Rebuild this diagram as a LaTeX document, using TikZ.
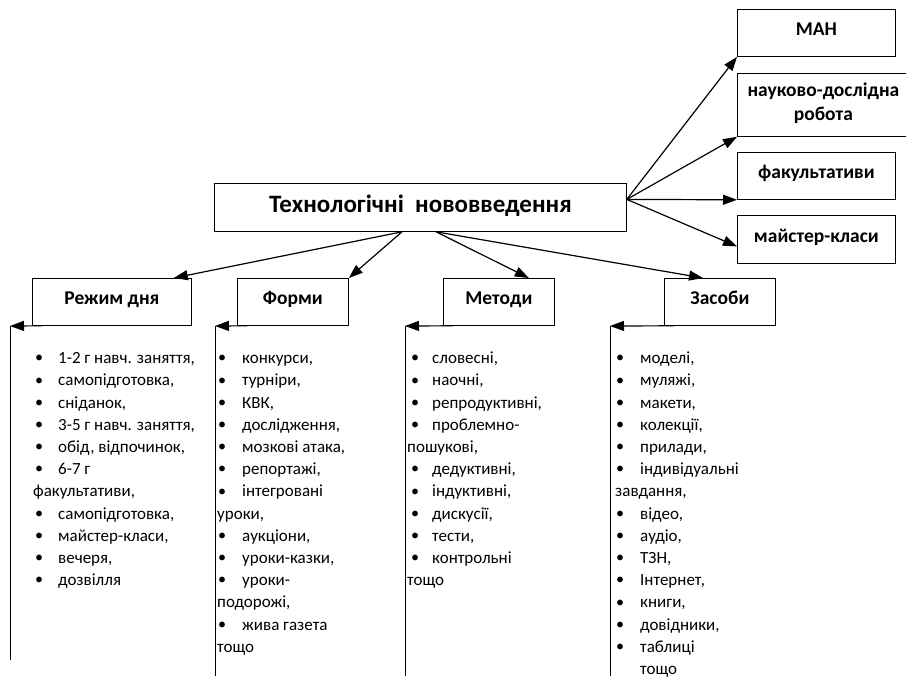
\documentclass[tikz,border=0pt]{standalone}
\usepackage{fontspec}
\setmainfont{Carlito}
\usetikzlibrary{arrows.meta}

% bullet item: small bullet, then the text at a fixed indent
\newcommand{\bl}[2][2pt]{\makebox[25pt][l]{\hspace{#1}\raisebox{0.8pt}{\scalebox{0.95}{•}}}#2}
\newcommand{\ind}[1]{\makebox[25pt]{}#1}

\begin{document}
\begin{tikzpicture}[x=1pt,y=-1pt,
  boxbase/.style={draw,line width=0.8pt,anchor=north west,inner sep=0pt,
    font=\fontsize{19.5}{22}\selectfont\bfseries,align=center},
  box/.style={boxbase,text height=13pt,text depth=7pt},
  arr/.style={line width=1.2pt,-{Triangle[length=14pt,width=10pt]}},
  rule/.style={line width=0.9pt},
  list/.style={anchor=north west,inner sep=0pt,align=left,
    font=\fontsize{17}{22.2}\selectfont}]
\useasboundingbox (0,0) rectangle (906,677);

% central box
\node[boxbase,minimum width=412pt,minimum height=48pt,
  font=\fontsize{25}{28}\selectfont\bfseries,text height=17pt,text depth=7pt]
  (tech) at (214,183) {Технологічні\ \ нововведення};

% right-hand boxes
\node[box,minimum width=158pt,minimum height=47pt] (man) at (737,9) {МАН};
\node[boxbase,minimum width=172pt,minimum height=63pt,
  font=\fontsize{19.5}{24}\selectfont\bfseries]
  (nauk) at (737,73) {науково-дослідна\\робота\rule[-6pt]{0pt}{6pt}};
\node[box,minimum width=158pt,minimum height=47pt] (fak) at (737,152) {факультативи};
\node[box,minimum width=158pt,minimum height=48pt] (mk) at (737,215) {майстер-класи};

% lower boxes
\node[box,minimum width=159pt,minimum height=47pt] (rezh) at (32,278) {Режим дня};
\node[box,minimum width=111pt,minimum height=47pt] (form) at (237,278) {Форми};
\node[box,minimum width=111pt,minimum height=47pt] (met) at (443,278) {Методи};
\node[box,minimum width=111pt,minimum height=47pt] (zas) at (664,278) {Засоби};

% arrows from the central box
\coordinate (tr) at ([yshift=8pt]tech.east);
\coordinate (bl) at ([xshift=188pt]tech.south west);
\coordinate (br) at ([xshift=222pt]tech.south west);
\draw[arr] (tr) -- (man.south west);
\draw[arr] (tr) -- (nauk.south west);
\draw[arr] (tr) -- (fak.south west);
\draw[arr] (tr) -- ([yshift=-7pt]mk.west);
\draw[arr] (bl) -- ([xshift=-18pt]rezh.north east);
\draw[arr] (bl) -- (form.north east);
\draw[arr] (br) -- ([xshift=-26pt]met.north east);
\draw[arr] (br) -- ([xshift=39pt]zas.north west);

% side rules with their arrows
\coordinate (rezhT) at (10,326);  \coordinate (rezhB) at (10,660);
\coordinate (formT) at (215,326); \coordinate (formB) at (215,676);
\coordinate (metT) at (405,326);  \coordinate (metB) at (405,676);
\coordinate (zasT) at (610,326);  \coordinate (zasB) at (610,676);
\draw[arr] ([xshift=10pt]rezh.south west) -- (rezhT);
\draw[arr] ([xshift=10pt]form.south west) -- (formT);
\draw[arr] ([xshift=10pt]met.south west) -- (metT);
\draw[arr] ([xshift=10pt]zas.south west) -- (zasT);
\draw[rule] (rezhT) -- (rezhB);
\draw[rule] (formT) -- (formB);
\draw[rule] (metT) -- (metB);
\draw[rule] (zasT) -- (zasB);

% lists
\node[list] (lrezh) at (33,348) {\strut\bl{1-2 г навч. заняття,}\\
  \bl{самопідготовка,}\\ \bl{сніданок,}\\ \bl{3-5 г навч. заняття,}\\
  \bl{обід, відпочинок,}\\ \bl{6-7 г}\\ факультативи,\\ \bl{самопідготовка,}\\
  \bl{майстер-класи,}\\ \bl{вечеря,}\\ \bl{дозвілля}};
\node[list] (lform) at (217,348) {\strut\bl[1pt]{конкурси,}\\
  \bl[1pt]{турніри,}\\ \bl[1pt]{КВК,}\\ \bl[1pt]{дослідження,}\\
  \bl[1pt]{мозкові атака,}\\ \bl[1pt]{репортажі,}\\ \bl[1pt]{інтегровані}\\
  уроки,\\ \bl[1pt]{аукціони,}\\ \bl[1pt]{уроки-казки,}\\ \bl[1pt]{уроки-}\\
  подорожі,\\ \bl[1pt]{жива газета}\\ тощо};
\node[list] (lmet) at (407,348) {\strut\bl[4pt]{словесні,}\\
  \bl[4pt]{наочні,}\\ \bl[4pt]{репродуктивні,}\\ \bl[4pt]{проблемно-}\\
  пошукові,\\ \bl[4pt]{дедуктивні,}\\ \bl[4pt]{індуктивні,}\\
  \bl[4pt]{дискусії,}\\ \bl[4pt]{тести,}\\ \bl[4pt]{контрольні}\\ тощо};
\node[list] (lzas) at (615,348) {\strut\bl[1pt]{моделі,}\\
  \bl[1pt]{муляжі,}\\ \bl[1pt]{макети,}\\ \bl[1pt]{колекції,}\\
  \bl[1pt]{прилади,}\\ \bl[1pt]{індивідуальні}\\ завдання,\\ \bl[1pt]{відео,}\\
  \bl[1pt]{аудіо,}\\ \bl[1pt]{ТЗН,}\\ \bl[1pt]{Інтернет,}\\ \bl[1pt]{книги,}\\
  \bl[1pt]{довідники,}\\ \bl[1pt]{таблиці}\\ \ind{тощо}};
\end{tikzpicture}
\end{document}
